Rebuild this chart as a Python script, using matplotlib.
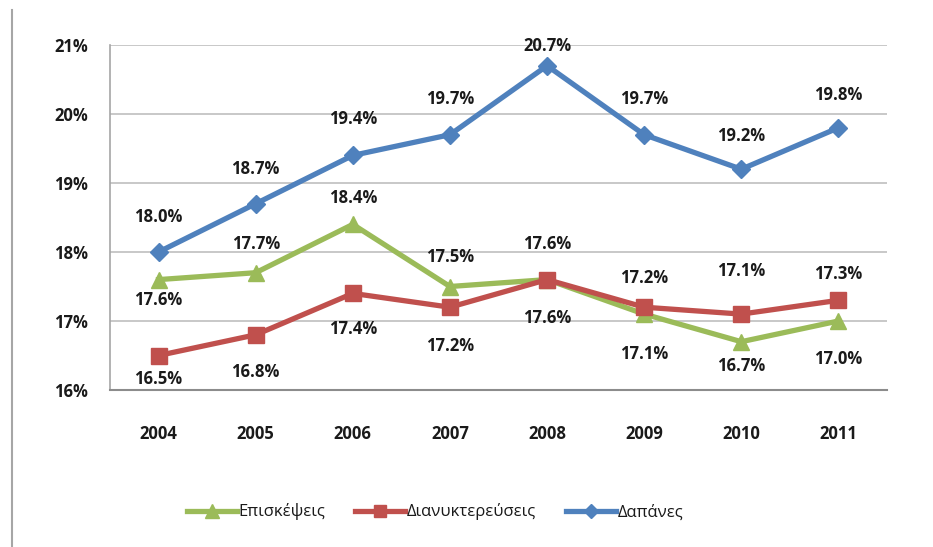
import matplotlib
matplotlib.use("Agg")
import matplotlib.pyplot as plt
from matplotlib.lines import Line2D
import numpy as np

plt.rcParams['font.family'] = ['Open Sans', 'DejaVu Sans']

years = ["2004", "2005", "2006", "2007", "2008", "2009", "2010", "2011"]
episkepseis = [17.6, 17.7, 18.4, 17.5, 17.6, 17.1, 16.7, 17.0]
dianyktereuseis = [16.5, 16.8, 17.4, 17.2, 17.6, 17.2, 17.1, 17.3]
dapanes = [18.0, 18.7, 19.4, 19.7, 20.7, 19.7, 19.2, 19.8]

# label offsets in pixels (positive = above the point)
green_dy = [-20, 29, 26, 29, -38, -40, -24, -38]
red_dy = [-23, -37, -36, -39, 36, 29, 43, 26]
blue_dy = [35, 35, 36, 36, 20, 36, 33, 33]

fig = plt.figure(figsize=(9.33, 5.47), dpi=100)
ax = fig.add_axes([110 / 933, 1 - 390 / 547, 777 / 933, 345 / 547])

x = np.arange(len(years))
series = [
    ("Επισκέψεις", episkepseis, "#9BBB59", "^", 12, green_dy),
    ("Διανυκτερεύσεις", dianyktereuseis, "#C0504D", "s", 11, red_dy),
    ("Δαπάνες", dapanes, "#4F81BD", "D", 9, blue_dy),
]
for name, vals, col, mk, ms, dys in series:
    ax.plot(x, vals, color=col, lw=3.8, marker=mk, markersize=ms,
            markeredgecolor=col, label=name, zorder=3)
    for xi, v, dy in zip(x, vals, dys):
        ax.annotate(f"{v:.1f}%", (xi, v), xytext=(0, dy * 0.72),
                    textcoords="offset points", ha="center", va="center",
                    fontsize=12, fontweight="bold", color="#1a1a1a",
                    annotation_clip=False, zorder=4)

ax.set_xlim(-0.5, len(years) - 0.5)
ax.set_ylim(16, 21)
ax.set_xticks(x)
ax.set_xticklabels(years)
ax.set_yticks(range(16, 22))
ax.set_yticklabels([f"{v}%" for v in range(16, 22)])
ax.tick_params(length=0, labelsize=12, colors="#1a1a1a")
ax.tick_params(axis="y", pad=16)
ax.tick_params(axis="x", pad=25)
for lab in ax.get_xticklabels() + ax.get_yticklabels():
    lab.set_fontweight("bold")
ax.grid(axis="y", color="#BFBFBF", lw=1.2)
ax.set_axisbelow(True)
for s in ["top", "right"]:
    ax.spines[s].set_visible(False)
ax.spines["left"].set_color("#A6A6A6")
ax.spines["left"].set_linewidth(1.2)
ax.spines["bottom"].set_color("#8C8C8C")
ax.spines["bottom"].set_linewidth(1.5)

leg = fig.legend(loc="center", bbox_to_anchor=(435 / 933, 1 - 512 / 547), ncol=3,
                 frameon=False, fontsize=12, handlelength=3.0, handletextpad=0.1,
                 columnspacing=1.8, markerscale=0.8)
for t in leg.get_texts():
    t.set_color("#1a1a1a")

fig.add_artist(Line2D([12 / 933, 12 / 933], [0, 1 - 10 / 547],
                      transform=fig.transFigure, color="#A6A6A6", lw=1.5))

fig.savefig("out.png", dpi=100)
